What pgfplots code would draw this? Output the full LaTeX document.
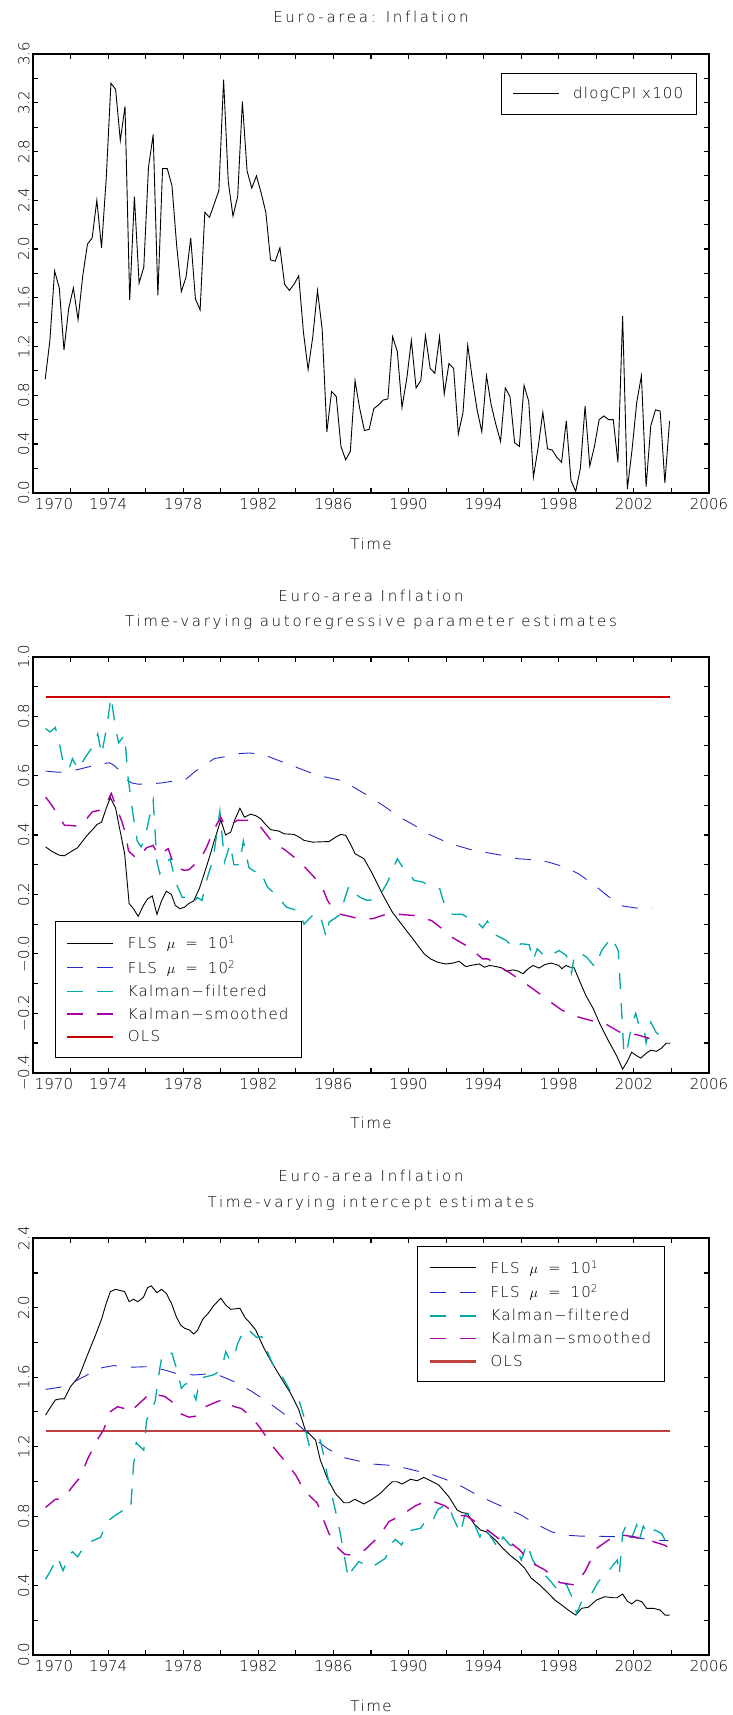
\documentclass[border=0pt]{standalone}
\usepackage{fontspec}
\setmainfont{DejaVu Sans}[UprightFont={* ExtraLight}]
\newfontfamily\tickfont{DejaVu Sans}[UprightFont={* ExtraLight}]
\newfontfamily\titlefont{DejaVu Sans}[UprightFont={* ExtraLight},LetterSpace=18,Ligatures=NoCommon]
\newfontfamily\legfont{DejaVu Sans}[UprightFont={* ExtraLight},LetterSpace=8,Ligatures=NoCommon]
\newfontfamily\timefont{DejaVu Sans}[UprightFont={* ExtraLight},LetterSpace=10,Ligatures=NoCommon]
\usepackage{pgfplots}
\pgfplotsset{compat=1.18}
\definecolor{cblue}{RGB}{40,40,200}
\definecolor{cteal}{RGB}{0,168,168}
\definecolor{cmag}{RGB}{170,0,170}
\definecolor{cred}{RGB}{200,0,0}
\definecolor{credb}{RGB}{192,64,64}
\newcommand\tkf{\tickfont\fontsize{15pt}{18pt}\selectfont}
\newcommand\tlf{\titlefont\fontsize{15pt}{18pt}\selectfont}
\newcommand\lgf{\legfont\fontsize{15pt}{18pt}\selectfont}
\newcommand\tmf{\timefont\fontsize{15pt}{18pt}\selectfont}
\newcommand\flsA{FLS\hspace{10pt}$\mu$\hspace{10pt}=\hspace{10pt}10\textsuperscript{1}}
\newcommand\flsB{FLS\hspace{10pt}$\mu$\hspace{10pt}=\hspace{10pt}10\textsuperscript{2}}
\pgfplotsset{
  gauss/.style={
    scale only axis, width=676pt, anchor=south west,
    xmin=1970, xmax=2006, no markers,
    axis line style={line width=2pt},
    tick align=inside, xtick pos=both, ytick pos=both,
    major tick length=5pt, minor tick length=5pt,
    every tick/.style={black, line width=1.1pt},
    xtick={1970,1974,1978,1982,1986,1990,1994,1998,2002,2006},
    minor xtick={1972,1976,1980,1984,1988,1992,1996,2000,2004},
    xticklabels={\hspace*{42pt}1970,1974,1978,1982,1986,1990,1994,1998,2002,2006},
    xticklabel style={font=\tkf, anchor=north, yshift=-2pt},
    yticklabel style={font=\tkf, rotate=90, anchor=south},
    legend cell align=left,
    legend image code/.code={\draw[##1] (0pt,0pt) -- (46pt,0pt);},
    legend style={draw=black, fill=white, line width=1pt, inner xsep=11pt, inner ysep=12pt,
      row sep=6pt, column sep=12pt, font=\lgf},
  },
  serA/.style={draw=black, line width=0.9pt, solid},
  serB/.style={draw=cblue, line width=0.9pt, dash pattern=on 16pt off 14pt},
  serC/.style={draw=cteal, line width=1.3pt, dash pattern=on 16pt off 14pt},
  serD/.style={draw=cmag, line width=1.4pt, dash pattern=on 16pt off 14pt},
  serE/.style={draw=cred, line width=1.5pt, solid},
  serF/.style={draw=credb, line width=2.2pt, solid},
}
\begin{document}
\begin{tikzpicture}
\useasboundingbox (0pt,0pt) rectangle (732pt,-1715pt);
% ---------- titles and x labels
\node[font=\tlf, anchor=base] at (371pt,-22.5pt) {Euro-area: Inflation};
\node[font=\tmf, anchor=base] at (371pt,-549.5pt) {Time};
\node[font=\tlf, anchor=base] at (371pt,-601pt) {Euro-area Inflation};
\node[font=\tlf, anchor=base] at (371pt,-626pt) {Time-varying autoregressive parameter estimates};
\node[font=\tmf, anchor=base] at (371pt,-1128.5pt) {Time};
\node[font=\tlf, anchor=base] at (371pt,-1181pt) {Euro-area Inflation};
\node[font=\tlf, anchor=base] at (371pt,-1207pt) {Time-varying intercept estimates};
\node[font=\tmf, anchor=base] at (371pt,-1711pt) {Time};

% ---------- panel 1
\begin{axis}[gauss, at={(33pt,-492.7pt)}, height=438.7pt,
  ymin=0, ymax=3.6,
  ytick={0,0.4,0.8,1.2,1.6,2.0,2.4,2.8,3.2,3.6},
  yticklabels={0.0,0.4,0.8,1.2,1.6,2.0,2.4,2.8,3.2,3.6},
  minor ytick={0.2,0.6,1.0,1.4,1.8,2.2,2.6,3.0,3.4},
  legend style={at={(0.692,0.957)}, anchor=north west}]
\addplot[serA, forget plot] coordinates {
(1970.65,0.93)(1970.90,1.25)(1971.15,1.82)(1971.40,1.68)(1971.65,1.17)(1971.90,1.51)
(1972.15,1.68)(1972.40,1.42)(1972.65,1.78)(1972.90,2.04)(1973.15,2.09)(1973.40,2.40)
(1973.65,2.01)(1973.90,2.58)(1974.15,3.36)(1974.40,3.31)(1974.65,2.89)(1974.90,3.17)
(1975.15,1.58)(1975.40,2.43)(1975.65,1.72)(1975.90,1.85)(1976.15,2.67)(1976.40,2.94)
(1976.65,1.62)(1976.90,2.66)(1977.15,2.66)(1977.40,2.52)(1977.65,2.03)(1977.90,1.65)
(1978.15,1.77)(1978.40,2.09)(1978.65,1.59)(1978.90,1.50)(1979.15,2.30)(1979.40,2.26)
(1979.65,2.37)(1979.90,2.48)(1980.15,3.39)(1980.40,2.55)(1980.65,2.27)(1980.90,2.43)
(1981.15,3.21)(1981.40,2.64)(1981.65,2.50)(1981.90,2.60)(1982.15,2.46)(1982.40,2.30)
(1982.65,1.91)(1982.90,1.90)(1983.15,2.01)(1983.40,1.71)(1983.65,1.66)(1983.90,1.71)
(1984.15,1.78)(1984.40,1.32)(1984.65,1.01)(1984.90,1.28)(1985.15,1.66)(1985.40,1.34)
(1985.65,0.50)(1985.90,0.83)(1986.15,0.79)(1986.40,0.38)(1986.65,0.27)(1986.90,0.34)
(1987.15,0.92)(1987.40,0.69)(1987.65,0.51)(1987.90,0.52)(1988.15,0.69)(1988.40,0.72)
(1988.65,0.76)(1988.90,0.77)(1989.15,1.28)(1989.40,1.16)(1989.65,0.70)(1989.90,0.93)
(1990.15,1.25)(1990.40,0.86)(1990.65,0.92)(1990.90,1.29)(1991.15,1.02)(1991.40,0.98)
(1991.65,1.28)(1991.90,0.81)(1992.15,1.06)(1992.40,1.02)(1992.65,0.48)(1992.90,0.66)
(1993.15,1.21)(1993.40,0.93)(1993.65,0.68)(1993.90,0.50)(1994.15,0.96)(1994.40,0.72)
(1994.65,0.56)(1994.90,0.42)(1995.15,0.86)(1995.40,0.79)(1995.65,0.41)(1995.90,0.38)
(1996.15,0.88)(1996.40,0.75)(1996.65,0.13)(1996.90,0.37)(1997.15,0.66)(1997.40,0.36)
(1997.65,0.35)(1997.90,0.29)(1998.15,0.25)(1998.40,0.59)(1998.65,0.10)(1998.90,0.01)
(1999.15,0.20)(1999.40,0.71)(1999.65,0.22)(1999.90,0.38)(2000.15,0.60)(2000.40,0.63)
(2000.65,0.60)(2000.90,0.60)(2001.15,0.25)(2001.40,1.45)(2001.65,0.03)(2001.90,0.35)
(2002.15,0.74)(2002.40,0.96)(2002.65,0.05)(2002.90,0.55)(2003.15,0.68)(2003.40,0.67)
(2003.65,0.08)(2003.90,0.59)};
\addlegendimage{serA}
\addlegendentry{dlogCPI x100}
\end{axis}

% ---------- panel 2
\begin{axis}[gauss, at={(33pt,-1072.7pt)}, height=416pt,
  ymin=-0.4, ymax=1.0,
  ytick={-0.4,-0.2,0,0.2,0.4,0.6,0.8,1.0},
  yticklabels={−0.4,−0.2,−0.0,0.2,0.4,0.6,0.8,1.0},
  minor ytick={-0.3,-0.1,0.1,0.3,0.5,0.7,0.9},
  legend style={at={(0.0325,0.036)}, anchor=south west}]
\addplot[serE, forget plot] coordinates {(1970.67,0.865)(2003.93,0.865)};
\addplot[serA, forget plot] coordinates {
(1970.67,0.36)(1971.0,0.345)(1971.4,0.332)(1971.67,0.33)(1972.0,0.343)(1972.37,0.357)
(1972.65,0.38)(1972.9,0.40)(1973.2,0.42)(1973.42,0.436)(1973.65,0.443)(1973.9,0.49)
(1974.12,0.526)(1974.4,0.49)(1974.65,0.41)(1974.88,0.337)(1975.12,0.169)(1975.35,0.152)
(1975.6,0.126)(1975.88,0.163)(1976.1,0.185)(1976.35,0.195)(1976.6,0.133)(1976.84,0.178)
(1977.1,0.211)(1977.37,0.20)(1977.58,0.163)(1977.82,0.152)(1978.07,0.157)(1978.33,0.171)
(1978.56,0.178)(1978.86,0.22)(1979.12,0.27)(1979.4,0.326)(1979.65,0.38)(1980.0,0.45)
(1980.26,0.40)(1980.53,0.41)(1980.74,0.45)(1981.02,0.49)(1981.26,0.46)(1981.58,0.47)
(1981.86,0.465)(1982.12,0.455)(1982.39,0.435)(1982.66,0.418)(1983.1,0.413)(1983.37,0.404)
(1983.9,0.402)(1984.17,0.393)(1984.43,0.382)(1984.88,0.376)(1985.77,0.378)(1986.12,0.393)
(1986.39,0.402)(1986.65,0.399)(1986.92,0.368)(1987.15,0.337)(1987.63,0.32)(1988.07,0.27)
(1988.6,0.202)(1989.14,0.14)(1989.67,0.096)(1990.2,0.053)(1990.83,0.0)(1991.2,-0.018)
(1991.54,-0.028)(1991.98,-0.034)(1992.37,-0.031)(1992.69,-0.025)(1993.05,-0.043)(1993.31,-0.039)
(1993.76,-0.034)(1994.05,-0.045)(1994.32,-0.039)(1994.68,-0.043)(1994.94,-0.047)(1995.2,-0.058)
(1995.57,-0.054)(1995.83,-0.058)(1996.1,-0.067)(1996.37,-0.05)(1996.63,-0.039)(1996.95,-0.048)
(1997.26,-0.036)(1997.6,-0.031)(1998.0,-0.039)(1998.17,-0.05)(1998.38,-0.039)(1998.6,-0.045)
(1998.8,-0.045)(1999.1,-0.09)(1999.44,-0.14)(1999.84,-0.185)(2000.19,-0.236)(2000.64,-0.292)
(2001.08,-0.343)(2001.4,-0.388)(2001.65,-0.362)(2001.88,-0.331)(2002.15,-0.343)(2002.36,-0.351)
(2002.65,-0.335)(2002.9,-0.324)(2003.2,-0.328)(2003.48,-0.317)(2003.71,-0.301)(2003.93,-0.301)};
\addplot[serB, forget plot] coordinates {
(1970.67,0.615)(1971.4,0.611)(1972.37,0.62)(1973.0,0.63)(1973.5,0.638)(1974.07,0.643)
(1974.3,0.635)(1974.56,0.62)(1974.9,0.59)(1975.26,0.575)(1975.6,0.571)(1975.96,0.571)
(1976.84,0.575)(1977.54,0.582)(1978.07,0.584)(1978.6,0.612)(1979.12,0.635)(1979.65,0.657)
(1980.18,0.663)(1980.53,0.669)(1981.02,0.674)(1981.5,0.676)(1982.2,0.672)(1982.7,0.66)
(1983.28,0.646)(1983.9,0.631)(1984.8,0.609)(1985.5,0.596)(1986.39,0.584)(1986.83,0.571)
(1987.1,0.56)(1987.9,0.53)(1988.7,0.497)(1989.5,0.461)(1990.3,0.433)(1991.1,0.402)
(1991.8,0.382)(1992.7,0.362)(1993.3,0.351)(1994.32,0.339)(1995.03,0.331)(1995.83,0.32)
(1996.63,0.317)(1997.43,0.309)(1998.23,0.294)(1999.04,0.27)(1999.84,0.234)(2000.64,0.193)
(2001.4,0.161)(2002.15,0.154)(2002.95,0.152)};
\addplot[serC, forget plot] coordinates {
(1970.67,0.758)(1970.91,0.747)(1971.19,0.762)(1971.44,0.697)(1971.6,0.646)(1971.9,0.62)
(1972.1,0.657)(1972.4,0.62)(1972.8,0.663)(1973.1,0.69)(1973.3,0.71)(1973.45,0.74)
(1973.65,0.67)(1973.8,0.72)(1973.95,0.77)(1974.15,0.865)(1974.4,0.76)(1974.56,0.71)
(1974.88,0.736)(1975.05,0.60)(1975.3,0.48)(1975.55,0.38)(1975.75,0.36)(1975.9,0.376)
(1976.05,0.416)(1976.2,0.46)(1976.4,0.517)(1976.6,0.31)(1976.75,0.27)(1977.0,0.30)
(1977.3,0.32)(1977.6,0.24)(1977.95,0.19)(1978.2,0.19)(1978.5,0.17)(1978.75,0.19)
(1979.0,0.18)(1979.3,0.26)(1979.6,0.32)(1979.95,0.48)(1980.2,0.31)(1980.5,0.37)
(1980.7,0.30)(1981.0,0.30)(1981.2,0.38)(1981.5,0.29)(1981.86,0.275)(1982.1,0.28)
(1982.48,0.225)(1982.92,0.20)(1983.5,0.157)(1984.17,0.144)(1984.43,0.10)(1985.05,0.14)
(1985.37,0.112)(1985.62,0.056)(1985.77,0.107)(1986.39,0.133)(1986.57,0.18)(1986.83,0.23)
(1987.2,0.20)(1987.45,0.189)(1987.8,0.18)(1988.16,0.182)(1988.5,0.20)(1988.87,0.24)
(1989.4,0.32)(1989.7,0.29)(1990.03,0.27)(1990.3,0.247)(1990.74,0.242)(1991.27,0.225)
(1991.66,0.219)(1991.95,0.157)(1992.2,0.135)(1992.43,0.133)(1992.87,0.133)(1993.2,0.12)
(1993.58,0.112)(1993.94,0.088)(1994.2,0.11)(1994.45,0.08)(1994.68,0.062)(1995.2,0.045)
(1995.45,0.03)(1995.65,0.017)(1996.0,0.034)(1996.42,0.031)(1996.63,-0.022)(1996.85,0.017)
(1997.3,-0.011)(1997.7,0.0)(1998.02,0.011)(1998.41,-0.006)(1998.68,-0.065)(1998.85,0.0)
(1999.2,0.0)(1999.48,-0.011)(1999.93,-0.045)(2000.28,0.011)(2000.81,0.056)(2001.17,0.011)
(2001.47,-0.337)(2001.6,-0.337)(2001.88,-0.24)(2002.1,-0.20)(2002.3,-0.25)(2002.54,-0.25)
(2002.65,-0.30)(2002.9,-0.23)(2003.18,-0.264)(2003.57,-0.287)(2003.93,-0.30)};
\addplot[serD, forget plot] coordinates {
(1970.67,0.528)(1971.0,0.50)(1971.23,0.478)(1971.67,0.433)(1972.0,0.432)(1972.46,0.429)
(1972.8,0.45)(1973.16,0.478)(1973.68,0.485)(1973.95,0.51)(1974.17,0.54)(1974.4,0.50)
(1974.74,0.444)(1974.9,0.41)(1975.09,0.346)(1975.53,0.32)(1976.05,0.357)(1976.4,0.365)
(1976.67,0.331)(1977.2,0.354)(1977.54,0.292)(1978.07,0.281)(1978.3,0.283)(1978.86,0.315)
(1979.21,0.354)(1979.65,0.42)(1980.0,0.46)(1980.26,0.427)(1980.53,0.435)(1980.9,0.45)
(1981.2,0.449)(1981.5,0.449)(1982.12,0.427)(1982.7,0.38)(1983.46,0.348)(1984.17,0.312)
(1984.8,0.27)(1985.37,0.23)(1985.68,0.18)(1986.0,0.15)(1986.39,0.133)(1987.19,0.121)
(1988.07,0.118)(1988.79,0.133)(1989.5,0.133)(1990.3,0.129)(1991.22,0.112)(1991.8,0.084)
(1992.2,0.06)(1992.6,0.045)(1993.23,0.022)(1993.94,-0.017)(1994.23,-0.017)(1994.85,-0.043)
(1995.3,-0.06)(1995.74,-0.079)(1996.63,-0.118)(1997.35,-0.152)(1998.15,-0.189)(1998.95,-0.211)
(1999.75,-0.225)(2000.55,-0.238)(2001.35,-0.267)(2002.15,-0.272)(2002.95,-0.287)};
\addlegendimage{serA}\addlegendentry{\flsA}
\addlegendimage{serB}\addlegendentry{\flsB}
\addlegendimage{serC}\addlegendentry{Kalman−filtered}
\addlegendimage{draw=cmag, line width=1.4pt, dash pattern=on 16pt off 14pt}\addlegendentry{Kalman−smoothed}
\addlegendimage{serE}\addlegendentry{OLS}
\end{axis}

% ---------- panel 3
\begin{axis}[gauss, at={(33pt,-1655pt)}, height=416.7pt,
  ymin=0, ymax=2.4,
  ytick={0,0.4,0.8,1.2,1.6,2.0,2.4},
  yticklabels={0.0,0.4,0.8,1.2,1.6,2.0,2.4},
  minor ytick={0.2,0.6,1.0,1.4,1.8,2.2},
  legend style={at={(0.568,0.9815)}, anchor=north west}]
\addplot[serF, forget plot] coordinates {(1970.67,1.29)(2003.93,1.29)};
\addplot[serA, forget plot] coordinates {
(1970.67,1.382)(1970.95,1.43)(1971.19,1.469)(1971.44,1.475)(1971.67,1.475)(1972.0,1.546)
(1972.46,1.607)(1972.9,1.728)(1973.33,1.843)(1973.65,1.934)(1973.9,2.026)(1974.12,2.093)
(1974.4,2.106)(1974.88,2.093)(1975.12,2.035)(1975.35,2.049)(1975.58,2.035)(1975.88,2.06)
(1976.1,2.116)(1976.3,2.126)(1976.6,2.087)(1976.84,2.106)(1977.1,2.083)(1977.37,2.026)
(1977.63,1.949)(1977.86,1.901)(1978.07,1.882)(1978.33,1.872)(1978.56,1.849)(1978.77,1.872)
(1979.04,1.934)(1979.33,1.968)(1979.65,2.016)(1980.0,2.055)(1980.26,2.016)(1980.53,1.991)
(1981.02,1.997)(1981.32,1.939)(1981.5,1.92)(1981.86,1.872)(1982.3,1.767)(1982.74,1.68)
(1983.28,1.584)(1983.72,1.507)(1984.16,1.411)(1984.5,1.296)(1984.78,1.267)(1985.05,1.238)
(1985.3,1.123)(1985.67,1.018)(1986.1,0.931)(1986.56,0.877)(1986.82,0.877)(1987.14,0.897)
(1987.62,0.87)(1988.06,0.897)(1988.5,0.931)(1988.86,0.97)(1989.13,0.998)(1989.39,0.998)
(1989.66,0.985)(1990.1,1.012)(1990.46,1.004)(1990.81,1.023)(1991.17,1.004)(1991.61,0.979)
(1992.14,0.912)(1992.59,0.835)(1992.85,0.82)(1993.12,0.816)(1993.47,0.758)(1993.83,0.72)
(1994.14,0.71)(1994.59,0.666)(1995.03,0.614)(1995.39,0.576)(1995.83,0.538)(1996.19,0.499)
(1996.54,0.442)(1996.99,0.403)(1997.35,0.365)(1997.79,0.317)(1998.23,0.282)(1998.55,0.255)
(1998.91,0.23)(1999.21,0.269)(1999.57,0.275)(2000.01,0.317)(2000.46,0.336)(2000.87,0.33)
(2001.1,0.33)(2001.4,0.351)(2001.65,0.31)(2001.88,0.294)(2002.15,0.317)(2002.42,0.307)
(2002.68,0.269)(2003.04,0.269)(2003.4,0.259)(2003.66,0.23)(2003.9,0.23)};
\addplot[serB, forget plot] coordinates {
(1970.67,1.53)(1971.44,1.542)(1972.1,1.569)(1973.0,1.619)(1973.68,1.655)(1974.3,1.667)
(1975.09,1.657)(1976.14,1.661)(1977.0,1.642)(1977.7,1.619)(1978.6,1.613)(1979.3,1.619)
(1980.0,1.607)(1980.7,1.575)(1981.58,1.523)(1982.48,1.459)(1983.28,1.396)(1984.07,1.331)
(1984.78,1.262)(1985.67,1.19)(1986.47,1.139)(1987.27,1.119)(1988.06,1.10)(1988.86,1.094)
(1989.66,1.081)(1990.37,1.062)(1991.17,1.043)(1991.96,1.012)(1992.85,0.97)(1993.56,0.927)
(1994.41,0.883)(1995.2,0.845)(1996.0,0.806)(1996.72,0.758)(1997.6,0.71)(1998.32,0.691)
(1999.12,0.685)(1999.93,0.685)(2000.73,0.682)(2001.53,0.682)(2002.33,0.672)(2003.13,0.662)
(2003.84,0.659)};
\addplot[serC, forget plot] coordinates {
(1970.67,0.436)(1970.96,0.49)(1971.3,0.566)(1971.6,0.486)(1971.9,0.57)(1972.1,0.595)
(1972.37,0.566)(1972.7,0.62)(1973.07,0.653)(1973.6,0.678)(1973.95,0.768)(1974.4,0.806)
(1974.9,0.84)(1975.2,0.835)(1975.35,1.09)(1975.5,1.223)(1975.7,1.20)(1975.9,1.18)
(1976.05,1.354)(1976.5,1.459)(1976.75,1.65)(1976.9,1.738)(1977.4,1.738)(1977.5,1.70)
(1977.72,1.622)(1977.9,1.536)(1978.1,1.56)(1978.33,1.565)(1978.68,1.47)(1978.86,1.584)
(1979.1,1.60)(1979.6,1.613)(1979.9,1.632)(1980.1,1.67)(1980.26,1.747)(1980.44,1.709)
(1980.67,1.70)(1980.9,1.795)(1981.3,1.882)(1981.6,1.86)(1981.9,1.83)(1982.18,1.834)
(1982.48,1.747)(1982.83,1.661)(1983.28,1.603)(1983.5,1.56)(1983.72,1.517)(1984.16,1.469)
(1984.43,1.373)(1984.55,1.277)(1984.7,1.21)(1984.96,1.254)(1985.3,1.238)(1985.5,1.142)
(1985.67,1.037)(1986.2,0.787)(1986.38,0.691)(1986.79,0.442)(1987.0,0.49)(1987.35,0.538)
(1987.7,0.52)(1988.0,0.503)(1988.77,0.557)(1989.1,0.643)(1989.3,0.666)(1989.62,0.634)
(1990.05,0.716)(1990.64,0.73)(1991.08,0.80)(1991.34,0.787)(1991.57,0.839)(1991.9,0.86)
(1992.14,0.864)(1992.35,0.797)(1992.76,0.70)(1992.99,0.806)(1993.3,0.816)(1993.56,0.739)
(1993.8,0.68)(1994.0,0.739)(1994.25,0.70)(1994.5,0.662)(1994.77,0.614)(1995.03,0.68)
(1995.39,0.634)(1995.74,0.624)(1996.0,0.547)(1996.1,0.576)(1996.3,0.643)(1996.6,0.55)
(1996.9,0.499)(1997.26,0.461)(1997.6,0.42)(1998.02,0.365)(1998.38,0.413)(1998.73,0.326)
(1998.95,0.24)(1999.21,0.307)(1999.66,0.336)(2000.1,0.422)(2000.64,0.48)(2000.9,0.52)
(2001.12,0.547)(2001.22,0.461)(2001.4,0.70)(2001.6,0.749)(2001.9,0.68)(2002.15,0.749)
(2002.3,0.666)(2002.5,0.743)(2002.77,0.691)(2003.1,0.72)(2003.48,0.70)(2003.84,0.624)};
\addplot[serD, forget plot] coordinates {
(1970.67,0.85)(1971.19,0.897)(1971.6,0.90)(1972.1,0.97)(1972.54,1.027)(1972.9,1.127)
(1973.42,1.238)(1973.77,1.30)(1974.12,1.402)(1974.5,1.43)(1974.82,1.421)(1975.12,1.396)
(1975.44,1.427)(1976.05,1.488)(1976.3,1.511)(1976.63,1.498)(1977.0,1.49)(1977.4,1.459)
(1977.9,1.388)(1978.3,1.37)(1978.77,1.377)(1979.2,1.431)(1979.6,1.45)(1980.14,1.473)
(1980.7,1.431)(1981.1,1.42)(1981.5,1.382)(1981.93,1.331)(1982.18,1.296)(1982.7,1.21)
(1983.37,1.123)(1983.99,1.037)(1984.43,0.95)(1985.14,0.874)(1985.44,0.787)(1985.76,0.70)
(1986.26,0.614)(1986.6,0.58)(1986.91,0.576)(1987.67,0.605)(1988.0,0.64)(1988.42,0.682)
(1988.95,0.768)(1989.62,0.806)(1990.37,0.86)(1990.8,0.88)(1991.22,0.889)(1991.96,0.858)
(1992.63,0.806)(1993.1,0.80)(1993.56,0.768)(1994.32,0.71)(1994.77,0.672)(1995.2,0.666)
(1995.88,0.609)(1996.54,0.532)(1997.26,0.49)(1998.06,0.417)(1998.86,0.403)(1999.39,0.48)
(2000.01,0.614)(2000.64,0.662)(2001.35,0.691)(2001.97,0.682)(2002.4,0.67)(2002.77,0.662)
(2003.6,0.634)(2003.84,0.62)};
\addlegendimage{serA}\addlegendentry{\flsA}
\addlegendimage{serB}\addlegendentry{\flsB}
\addlegendimage{serC}\addlegendentry{Kalman−filtered}
\addlegendimage{draw=cmag, line width=1.4pt, dash pattern=on 16pt off 14pt}\addlegendentry{Kalman−smoothed}
\addlegendimage{serF}\addlegendentry{OLS}
\end{axis}
\end{tikzpicture}
\end{document}
